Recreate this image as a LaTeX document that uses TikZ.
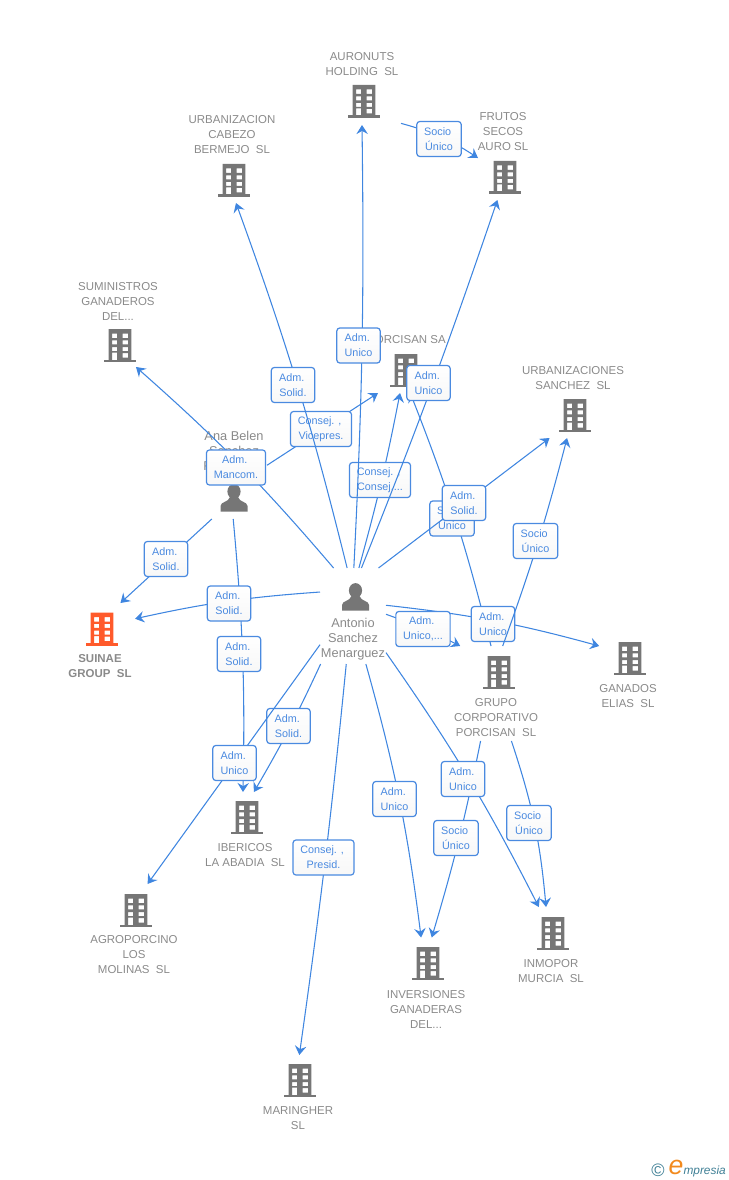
\documentclass[tikz,border=0pt]{standalone}
\usepackage{fontspec}
\setmainfont{Liberation Sans}
\usepackage{tikz}
\usetikzlibrary{arrows.meta}

\definecolor{linkblue}{HTML}{3F86E0}
\definecolor{tagblue}{HTML}{4A8AE0}
\definecolor{icongrey}{HTML}{767676}
\definecolor{suinaered}{HTML}{FF5A2B}
\definecolor{labelgrey}{HTML}{8A8A8A}
\definecolor{logoteal}{HTML}{3F7F95}
\definecolor{logoorange}{HTML}{F28A1E}
\newcommand{\tsp}{\kern2pt}

\tikzset{
  link/.style={linkblue,line width=0.8pt,-{Stealth[length=6.8pt,width=8.6pt,inset=2.4pt]}},
  tag/.style={draw=tagblue,line width=0.9pt,rounded corners=2.2pt,top color=white,bottom color=black!3,
    text=tagblue,font=\fontsize{8.1}{11.25}\selectfont,align=center,inner xsep=5.5pt,inner ysep=0pt,
    minimum width=32.5pt,minimum height=26.25pt},
  hub/.style 2 args={rectangle,inner sep=0pt,outer sep=0pt,minimum width=#1*0.75pt,minimum height=#2*0.75pt},
  firmname/.style={text=labelgrey,font=\fontsize{8.6}{11.25}\selectfont,align=center,inner sep=0pt},
  personname/.style={text=labelgrey,font=\fontsize{9.6}{11.25}\selectfont,align=center,inner sep=0pt},
  pics/firm/.style={code={
    \fill[#1,even odd rule] (-11.3,-16) rectangle (11.3,15)
      (-8,-11.5) rectangle (-3,-7) (2.5,-11.5) rectangle (8,-7)
      (-8,-4.7) rectangle (-3,-0.7) (2.5,-4.7) rectangle (8,-0.7)
      (-8,2) rectangle (-3,6) (2.5,2) rectangle (8,6)
      (-8,7.5) rectangle (-3,15) (2.5,8) rectangle (8,12.5);
    \fill[#1] (-16,14.5) rectangle (16,17);
  }},
  pics/person/.style={code={
    \fill[icongrey] (0,-6.5) ellipse (6.6 and 7.4);
    \fill[icongrey] (-13.5,13.5) -- (-13.5,8) .. controls (-13.5,3.5) and (-5.5,4.5) .. (-4,-1)
      -- (4,-1) .. controls (5.5,4.5) and (13.5,3.5) .. (13.5,8) -- (13.5,13.5) -- cycle;
  }}
}

\begin{document}
\begin{tikzpicture}[x=0.75pt,y=-0.75pt]
\useasboundingbox (0,0) rectangle (728,1180);

% firms
\pic at (364,101) {firm=icongrey};
\node[firmname] (auronuts-t) at (362,64.5) {AURONUTS\\HOLDING\ \ SL};
\node[hub={78}{76}] (auronuts) at (362,87) {};

\pic at (505,177) {firm=icongrey};
\node[firmname] (frutos-t) at (503,132) {FRUTOS\\SECOS\\AURO SL};
\node[hub={50}{91}] (frutos) at (503,154.5) {};

\pic at (234,180) {firm=icongrey};
\node[firmname] (urbanizacion-t) at (232,135) {URBANIZACION\\CABEZO\\BERMEJO\ \ SL};
\node[hub={88}{91}] (urbanizacion) at (232,157.5) {};

\pic at (120,345) {firm=icongrey};
\node[firmname] (suministros-t) at (118,301) {SUMINISTROS\\GANADEROS\\DEL...};
\node[hub={80}{89}] (suministros) at (118,322.5) {};

\pic at (406,370) {firm=icongrey};
\node[firmname] (porcisan-t) at (406.5,340) {PORCISAN SA};
\node[hub={79}{61}] (porcisan) at (406.5,362.5) {};

\pic at (575,415) {firm=icongrey};
\node[firmname] (urbsanchez-t) at (573,378.5) {URBANIZACIONES\\SANCHEZ\ \ SL};
\node[hub={104}{75}] (urbsanchez) at (573,400.5) {};

\pic at (102,628.5) {firm=suinaered};
\node[firmname,font=\fontsize{8.6}{11.25}\selectfont\bfseries] (suinae-t) at (100,666.5) {SUINAE\\GROUP\ \ SL};
\node[hub={70}{77}] (suinae) at (100,641.5) {};

\pic at (499,672) {firm=icongrey};
\node[firmname] (grupo-t) at (496,718) {GRUPO\\CORPORATIVO\\PORCISAN\ \ SL};
\node[hub={84}{95}] (grupo) at (496,693.5) {};

\pic at (630,658) {firm=icongrey};
\node[firmname] (ganados-t) at (628,696.5) {GANADOS\\ELIAS\ \ SL};
\node[hub={58}{64}] (ganados) at (628,678) {};

\pic at (247,817) {firm=icongrey};
\node[firmname] (ibericos-t) at (245,855.5) {IBERICOS\\LA ABADIA\ \ SL};
\node[hub={82}{77}] (ibericos) at (245,830.5) {};

\pic at (136,910) {firm=icongrey};
\node[firmname] (agroporcino-t) at (134,955) {AGROPORCINO\\LOS\\MOLINAS\ \ SL};
\node[hub={89}{92}] (agroporcino) at (133.5,930) {};

\pic at (428,963) {firm=icongrey};
\node[firmname] (inversiones-t) at (426,1009) {INVERSIONES\\GANADERAS\\DEL...};
\node[hub={80}{93}] (inversiones) at (426,984) {};

\pic at (553,933) {firm=icongrey};
\node[firmname] (inmopor-t) at (551,971.5) {INMOPOR\\MURCIA\ \ SL};
\node[hub={67}{78}] (inmopor) at (551.5,946) {};

\pic at (300,1080) {firm=icongrey};
\node[firmname] (maringher-t) at (298,1118.5) {MARINGHER\\SL};
\node[hub={72}{77}] (maringher) at (298,1093.5) {};

% people
\pic at (355.5,597) {person};
\node[personname] (antonio-t) at (353,639.5) {Antonio\\Sanchez\\Menarguez};
\node[hub={66}{96}] (antonio) at (353,616) {};

\pic at (234,498) {person};
\node[personname] (ana-t) at (234,450.5) {Ana Belen\\Sanchez\\Fernandez};
\node[hub={66}{91}] (ana) at (234,473.5) {};

% links and their tags
\draw[link] (ana.14.4) -- (porcisan.-133);
\node[tag] (t-vicepres) at (321,429) {Consej. ,\tsp\\Vicepres.};

\draw[link] (antonio.83.5) to[bend right=2.2] (porcisan.-102);
\node[tag] (t-consej) at (380,480) {Consej. ,\tsp\\Consej....};

\draw[link] (antonio.97) to[bend right=3] (urbanizacion.-85);
\node[tag] (t-urbanizacion) at (293,385) {Adm.\tsp\\Solid.};

\draw[link] (antonio.89) to[bend right=1.8] (auronuts.-90);
\node[tag] (t-auronuts) at (358.5,345.5) {Adm.\tsp\\Unico};

\draw[link] (grupo.96.4) to[bend right=3.7] (porcisan.-83.5);
\node[tag] (t-porcisan) at (452,518.5) {Socio\tsp\\Único};

\draw[link] (antonio.80.5) to[bend right=1.5] (frutos.-97.5);
\node[tag] (t-frutos) at (428.5,383) {Adm.\tsp\\Unico};

\draw[link] (antonio.62.5) -- (urbsanchez.-122.6);
\node[tag] (t-urbsanchez) at (464,503) {Adm.\tsp\\Solid.};

\draw[link] (antonio.18.4) to[bend left=4.5] (ganados.132.2);
\node[tag] (t-ganados) at (493,624) {Adm.\tsp\\Unico};

\draw[link] (grupo.82.5) to[bend right=2.7] (urbsanchez.-99);
\node[tag] (t-grupo) at (535.5,541) {Socio\tsp\\Único};

\draw[link] (antonio.112.6) to[bend right=4] (suministros.-68);
\node[tag] (t-suministros) at (236,467.5) {Adm.\tsp\\Mancom.};

\draw[link] (ana.-91) to[bend left=3.2] (ibericos.93);
\node[tag] (t-anaibericos) at (239,654) {Adm.\tsp\\Solid.};

\draw[link] (antonio.144) to[bend right=4.2] (suinae.33.9);
\node[tag] (t-suinae) at (229,603.5) {Adm.\tsp\\Solid.};

\draw[link] (ana.-116) -- (suinae.62.5);
\node[tag] (t-anasuinae) at (166,559) {Adm.\tsp\\Solid.};

\draw[link] (antonio.-124) to[bend left=2.7] (ibericos.77);
\node[tag] (t-ibericos) at (288.5,726) {Adm.\tsp\\Solid.};

\draw[link] (antonio.221.3) -- (agroporcino.73.7);
\node[tag] (t-agroporcino) at (234.5,763) {Adm.\tsp\\Unico};

\draw[link] (antonio.-98.3) to[bend left=1.2] (maringher.88.5);
\node[tag] (t-maringher) at (323.5,857.5) {Consej. ,\tsp\\Presid.};

\draw[link] (antonio.-75) to[bend left=4.2] (inversiones.96);
\node[tag] (t-inversiones) at (394.5,799) {Adm.\tsp\\Unico};

\draw[link] (grupo.-108.3) to[bend left=2.6] (inversiones.83);
\node[tag] (t-grupoinv) at (456,838) {Socio\tsp\\Único};

\draw[link] (antonio.-48) to[bend left=4] (inmopor.108.7);
\node[tag] (t-inmopor) at (463,779) {Adm.\tsp\\Unico};

\draw[link] (grupo.-72.8) to[bend left=6.6] (inmopor.98.4);
\node[tag] (t-grupoinm) at (529,823) {Socio\tsp\\Único};

\draw[link] (antonio.3.5) to[bend left=3.6] (grupo.127.7);
\node[tag] (t-grupoadm) at (423,629) {Adm.\tsp\\Unico,...};

\draw[link] (auronuts.-43.5) to[bend left=9] (frutos.188);
\node[tag] (t-frutossocio) at (439,139) {Socio\tsp\\Único};

% logo
\node[text=logoteal,font=\fontsize{13.5}{14}\selectfont,inner sep=0pt] (logo-c) at (658,1170) {©};
\node[anchor=base east,inner sep=0pt,text=logoteal,font=\itshape\fontsize{8.9}{12}\selectfont] (logo) at (726,1174)
  {\textcolor{logoorange}{\fontsize{20}{12}\selectfont e}mpresia};
\end{tikzpicture}
\end{document}
